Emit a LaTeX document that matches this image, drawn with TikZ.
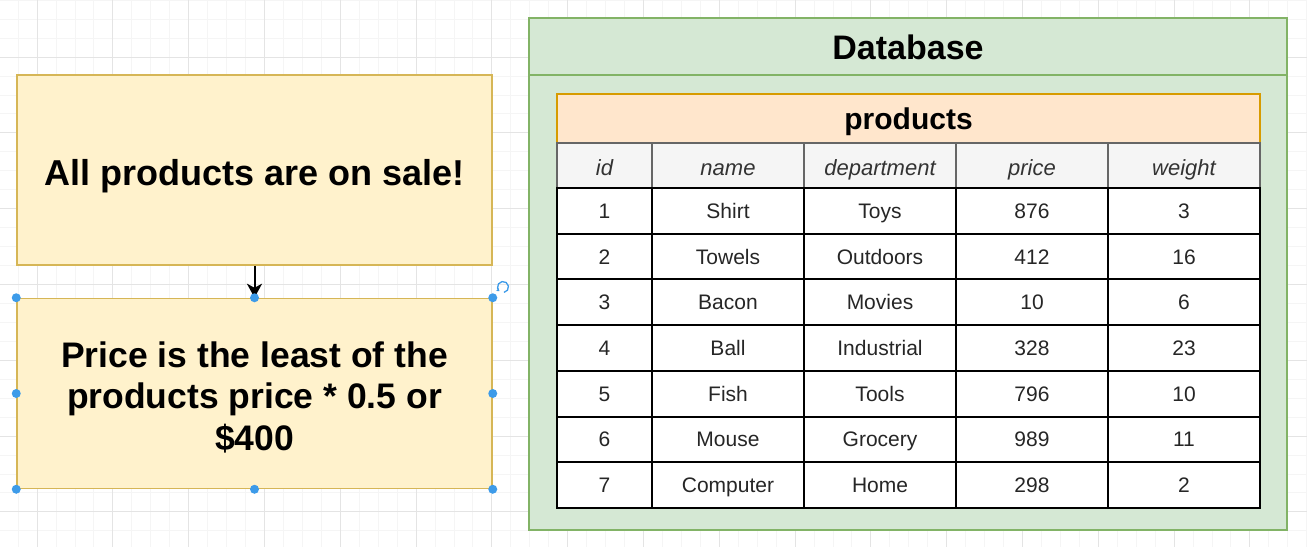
\documentclass[tikz,border=0pt]{standalone}
\usepackage{fontspec}
\setmainfont{Liberation Sans}
\usetikzlibrary{arrows.meta}
\definecolor{noteFill}{HTML}{FFF2CC}
\definecolor{noteLine}{HTML}{D6B656}
\definecolor{dbFill}{HTML}{D5E8D4}
\definecolor{dbLine}{HTML}{82B366}
\definecolor{tabFill}{HTML}{FFE6CC}
\definecolor{tabLine}{HTML}{D79B00}
\definecolor{headFill}{HTML}{F5F5F5}
\definecolor{headLine}{HTML}{666666}
\definecolor{headText}{HTML}{333333}
\definecolor{handleBlue}{HTML}{3D9BE9}
\definecolor{gridMinor}{HTML}{F5F5F5}
\definecolor{gridMajor}{HTML}{E4E4E4}
\tikzset{
  gminor/.style={draw=gridMinor, line width=0.8pt},
  gmajor/.style={draw=gridMajor, line width=1pt},
  notebox/.style={draw=noteLine, fill=noteFill, line width=1.5pt, inner sep=0pt,
    minimum width=475pt, minimum height=190pt},
  bigtxt/.style={anchor=base, inner sep=0pt, font=\fontsize{36}{43}\selectfont\bfseries},
  midtxt/.style={anchor=base, inner sep=0pt, font=\fontsize{35.5}{42}\selectfont\bfseries},
  dbbox/.style={draw=dbLine, fill=dbFill, line width=1.5pt, inner sep=0pt,
    minimum width=758pt, minimum height=512pt},
  tabhead/.style={draw=tabLine, fill=tabFill, line width=1.5pt, inner sep=0pt,
    minimum width=703pt, minimum height=49pt},
  titletxt/.style={anchor=base, inner sep=0pt, font=\fontsize{34}{40}\selectfont\bfseries},
  tabtxt/.style={anchor=base, inner sep=0pt, font=\fontsize{30}{36}\selectfont\bfseries},
  hcell/.style={draw=headLine, fill=headFill, line width=1.5pt, inner sep=0pt,
    minimum height=45pt, text height=19pt, text depth=0pt, text=headText,
    font=\fontsize{22}{26}\selectfont\itshape},
  dcell/.style={draw=black, fill=white, line width=2pt, inner sep=0pt,
    minimum height=45.714pt, text height=15pt, text depth=0pt, text=black!85,
    font=\fontsize{21}{25}\selectfont},
  handle/.style={circle, fill=handleBlue, inner sep=0pt, minimum size=9pt},
  conn/.style={draw=black, line width=2pt, -{Stealth[length=14pt,width=15pt,inset=4pt]}},
}
\begin{document}
\begin{tikzpicture}[x=1pt,y=-1pt]
\useasboundingbox (0,0) rectangle (1307,547);
\fill[white] (0,0) rectangle (1307,547);
% grid
\foreach \i in {0,...,69} {\draw[gminor] ({18.05+\i*18.95},0) -- ++(0,547);}
\foreach \i in {0,...,29} {\draw[gminor] (0,{0.15+\i*18.95}) -- ++(1307,0);}
\foreach \i in {0,...,17} {\draw[gmajor] ({37+\i*75.8},0) -- ++(0,547);}
\foreach \i in {-1,...,7} {\draw[gmajor] (0,{57+\i*75.8}) -- ++(1307,0);}

% left boxes
\node[notebox] (sale) at (254.5,170) {};
\node[bigtxt] (saletxt) at (254.5,185) {All products are on sale!};
\node[notebox] (rule) at (254.5,393.5) {};
\node[midtxt] (rule1) at (254.5,367) {Price is the least of the};
\node[midtxt] (rule2) at (254.5,408.5) {products price * 0.5 or};
\node[midtxt] (rule3) at (254.5,450) {\$400};
\draw[conn] (sale.south) -- (rule.north);

% selection handles
\foreach \a [count=\k] in {north west,north,north east,west,east,south west,south,south east}
  {\node[handle] (h\k) at (rule.\a) {};}
\coordinate (rot) at (503,287);
\draw[handleBlue, line width=1.3pt, -{Stealth[length=3pt,width=4pt]}]
  ([shift={(80:5.5)}]rot) arc[start angle=80, end angle=-230, radius=5.5];

% database container
\node[dbbox] (db) at (908,274) {};
\coordinate (dbsep) at (0,75);
\draw[dbLine, line width=1.5pt] (db.west |- dbsep) -- (db.east |- dbsep);
\node[titletxt] (dbtitle) at (908,59.5) {Database};

% products table
\node[tabhead] (prod) at (908.5,118.5) {};
\node[tabtxt] (prodtxt) at (908.5,129) {products};

\foreach \cx/\w/\h [count=\c] in {604.5/95/id, 728/152/name, 880/152/department, 1032/152/price, 1184/152/weight}
  {\node[hcell, minimum width=\w pt] (hd\c) at (\cx,165.5) {\h};}

\foreach \a/\b/\cc/\d/\e [count=\r] in {1/Shirt/Toys/876/3, 2/Towels/Outdoors/412/16, 3/Bacon/Movies/10/6, 4/Ball/Industrial/328/23, 5/Fish/Tools/796/10, 6/Mouse/Grocery/989/11, 7/Computer/Home/298/2}
{
  \pgfmathsetmacro\yy{188+45.714*(\r-0.5)}
  \node[dcell, minimum width=95pt]  (r\r c1) at (604.5,\yy) {\a};
  \node[dcell, minimum width=152pt] (r\r c2) at (728,\yy) {\b};
  \node[dcell, minimum width=152pt] (r\r c3) at (880,\yy) {\cc};
  \node[dcell, minimum width=152pt] (r\r c4) at (1032,\yy) {\d};
  \node[dcell, minimum width=152pt] (r\r c5) at (1184,\yy) {\e};
}
\end{tikzpicture}
\end{document}
